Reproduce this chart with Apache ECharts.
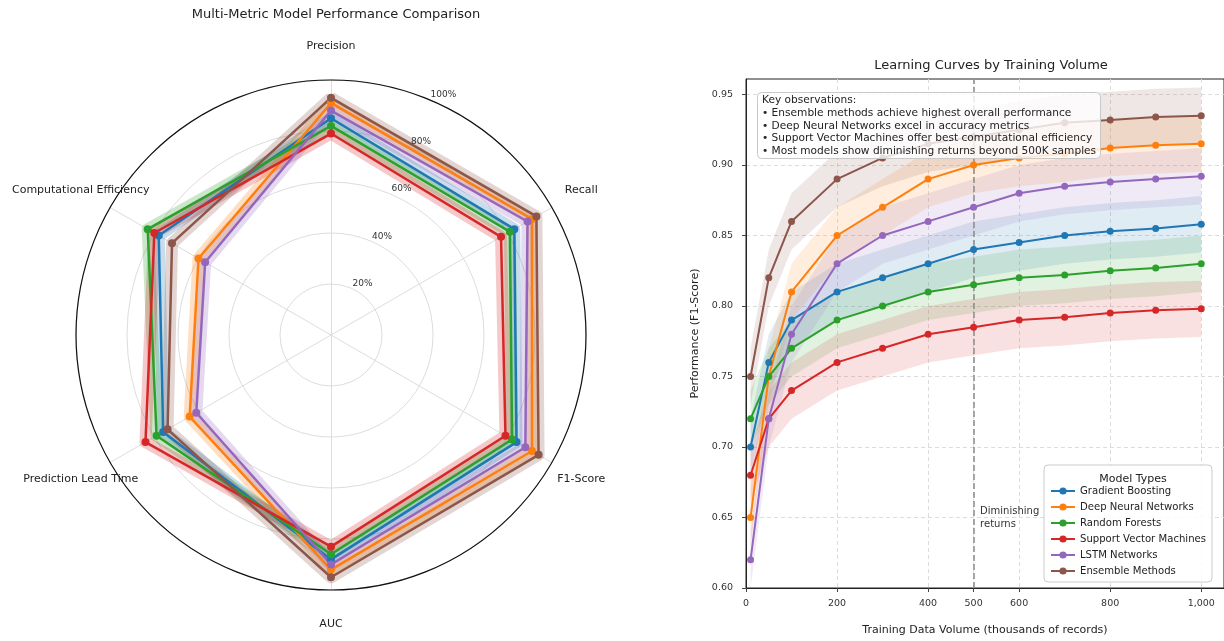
<!DOCTYPE html>
<html><head><meta charset="utf-8">
<script src="https://cdn.jsdelivr.net/npm/echarts@6/dist/echarts.min.js"></script>
<style>html,body{margin:0;padding:0;background:#fff;} #c{width:1224px;height:641px;}</style>
</head><body><div id="c"></div>
<script>
const FONT = 'DejaVu Sans';
const models = ['Gradient Boosting','Deep Neural Networks','Random Forests','Support Vector Machines','LSTM Networks','Ensemble Methods'];
const colors = ['#1f77b4','#ff7f0e','#2ca02c','#d62728','#9467bd','#8c564b'];

// Radar (percent), order: Precision, Recall, F1-Score, AUC, Prediction Lead Time, Computational Efficiency
const metrics = ['Precision','Recall','F1-Score','AUC','Prediction Lead Time','Computational Efficiency'];
const radarGradientBoosting = [85, 83, 84, 88, 76, 78];
const radarDeepNeuralNetworks = [91, 91, 91, 92, 64, 60];
const radarRandomForests = [82, 81, 82, 86, 79, 83];
const radarSupportVectorMachines = [79, 77, 79, 83, 84, 80];
const radarLSTMNetworks = [88, 89, 88, 90, 61, 57];
const radarEnsembleMethods = [93, 93, 94, 95, 74, 72];
const radarTicks = [20, 40, 60, 80, 100];

// Learning curves
const volumes = [10, 50, 100, 200, 300, 400, 500, 600, 700, 800, 900, 1000];
const curveGradientBoosting = [0.70, 0.76, 0.79, 0.81, 0.82, 0.83, 0.84, 0.845, 0.85, 0.853, 0.855, 0.858];
const curveDeepNeuralNetworks = [0.65, 0.75, 0.81, 0.85, 0.87, 0.89, 0.90, 0.905, 0.908, 0.912, 0.914, 0.915];
const curveRandomForests = [0.72, 0.75, 0.77, 0.79, 0.80, 0.81, 0.815, 0.82, 0.822, 0.825, 0.827, 0.83];
const curveSupportVectorMachines = [0.68, 0.72, 0.74, 0.76, 0.77, 0.78, 0.785, 0.79, 0.792, 0.795, 0.797, 0.798];
const curveLSTMNetworks = [0.62, 0.72, 0.78, 0.83, 0.85, 0.86, 0.87, 0.88, 0.885, 0.888, 0.89, 0.892];
const curveEnsembleMethods = [0.75, 0.82, 0.86, 0.89, 0.905, 0.915, 0.92, 0.925, 0.93, 0.932, 0.934, 0.935];
const bandHalfWidth = 0.02;
const xTicks = [0, 200, 400, 500, 600, 800, 1000];
const yTicks = [0.60, 0.65, 0.70, 0.75, 0.80, 0.85, 0.90, 0.95];
const diminishingReturnsAt = 500;
const observations = [
  'Key observations:',
  '\u2022 Ensemble methods achieve highest overall performance',
  '\u2022 Deep Neural Networks excel in accuracy metrics',
  '\u2022 Support Vector Machines offer best computational efficiency',
  '\u2022 Most models show diminishing returns beyond 500K samples'
];

const radarSets = [radarGradientBoosting, radarDeepNeuralNetworks, radarRandomForests, radarSupportVectorMachines, radarLSTMNetworks, radarEnsembleMethods];
const curveSets = [curveGradientBoosting, curveDeepNeuralNetworks, curveRandomForests, curveSupportVectorMachines, curveLSTMNetworks, curveEnsembleMethods];
const ccwOrder = [0, 5, 4, 3, 2, 1];

const series = [];
models.forEach((m, k) => {
  const vals = curveSets[k];
  series.push({
    type: 'custom', name: m + ' band', silent: true, z: 1,
    xAxisIndex: 0, yAxisIndex: 0,
    data: volumes.map((x, i) => [x, vals[i]]),
    renderItem: (params, api) => {
      if (params.dataIndex !== 0) return;
      const up = volumes.map((x, i) => api.coord([x, vals[i] + bandHalfWidth]));
      const lo = volumes.map((x, i) => api.coord([x, vals[i] - bandHalfWidth])).reverse();
      return { type: 'polygon', shape: { points: up.concat(lo) }, style: { fill: colors[k], opacity: 0.14 } };
    }
  });
});
models.forEach((m, k) => {
  const vals = curveSets[k];
  const s = {
    type: 'line', name: m, z: 3,
    xAxisIndex: 0, yAxisIndex: 0,
    data: volumes.map((x, i) => [x, vals[i]]),
    symbol: 'circle', symbolSize: 7,
    lineStyle: { width: 2, color: colors[k] },
    itemStyle: { color: colors[k] },
    emphasis: { disabled: true }
  };
  if (k === 0) {
    s.markLine = {
      silent: true, symbol: ['none', 'none'], z: 2,
      data: [{ xAxis: diminishingReturnsAt }],
      lineStyle: { type: [6, 3], color: '#8a8a8a', width: 1.5 },
      label: { show: false }
    };
    s.markPoint = {
      silent: true, symbol: 'circle', symbolSize: 1, itemStyle: { color: 'rgba(0,0,0,0)' },
      data: [{ coord: [diminishingReturnsAt, 0.65] }],
      label: { show: true, position: 'right', distance: 6, formatter: 'Diminishing\nreturns', color: '#333', fontSize: 10, lineHeight: 13, fontFamily: FONT, align: 'left' }
    };
  }
  series.push(s);
});
models.forEach((m, k) => {
  const v = ccwOrder.map(i => radarSets[k][i]);
  series.push({
    type: 'radar', name: m, silent: true, symbol: 'none', z: 2,
    lineStyle: { width: 12, color: colors[k], opacity: 0.25 },
    data: [{ value: v }]
  });
  series.push({
    type: 'radar', name: m, silent: true, symbol: 'circle', symbolSize: 8, z: 3,
    lineStyle: { width: 2.5, color: colors[k] },
    itemStyle: { color: colors[k] },
    data: [{ value: v }]
  });
});

const fmtThousands = v => String(Math.round(v)).replace(/\B(?=(\d{3})+(?!\d))/g, ',');

const option = {
  animation: false,
  backgroundColor: '#fff',
  textStyle: { fontFamily: FONT },
  title: [
    { text: 'Multi-Metric Model Performance Comparison', left: 331, top: 3, textAlign: 'center',
      textStyle: { fontSize: 13, fontWeight: 'normal', color: '#222', fontFamily: FONT } },
    { text: 'Learning Curves by Training Volume', left: 986, top: 54, textAlign: 'center',
      textStyle: { fontSize: 13, fontWeight: 'normal', color: '#222', fontFamily: FONT } },
    { text: observations.join('\n'), left: 757, top: 92, z: 8,
      backgroundColor: 'rgba(255,255,255,0.8)', borderColor: '#c8c8c8', borderWidth: 1, borderRadius: 4,
      padding: [2, 5, 1, 5],
      textStyle: { fontSize: 10.6, lineHeight: 12.7, fontWeight: 'normal', color: '#222', fontFamily: FONT } },
    { text: 'Model Types', left: 1128, top: 469, textAlign: 'center', z: 9,
      textStyle: { fontSize: 11, fontWeight: 'normal', color: '#222', fontFamily: FONT } }
  ],
  legend: {
    data: models, orient: 'vertical', left: 1044, top: 465,
    padding: [21, 6, 6, 6], itemGap: 6, itemWidth: 24, itemHeight: 9,
    backgroundColor: 'rgba(255,255,255,0.85)', borderColor: '#cccccc', borderWidth: 1, borderRadius: 4,
    textStyle: { fontSize: 10.1, color: '#222', fontFamily: FONT },
    selectedMode: false
  },
  grid: { left: 746, top: 79, right: 0, bottom: 46, show: true, borderColor: '#222', borderWidth: 1, backgroundColor: 'transparent' },
  xAxis: {
    type: 'value', min: 0, max: 1050, interval: 200,
    name: 'Training Data Volume (thousands of records)', nameLocation: 'middle', nameGap: 37,
    nameTextStyle: { fontSize: 11, color: '#222', fontFamily: FONT },
    axisLine: { show: true, onZero: false, lineStyle: { color: '#222', width: 1 } },
    axisTick: { show: true, customValues: xTicks, length: 4, lineStyle: { color: '#444' } },
    axisLabel: { customValues: xTicks, formatter: fmtThousands, fontSize: 9.5, color: '#333', margin: 11, fontFamily: FONT },
    splitLine: { show: true, lineStyle: { type: [4, 3], color: '#dcdcdc', width: 1 } }
  },
  yAxis: {
    type: 'value', min: 0.6, max: 0.961, interval: 0.05,
    name: 'Performance (F1-Score)', nameLocation: 'middle', nameGap: 45, nameRotate: 90,
    nameTextStyle: { fontSize: 11, color: '#222', fontFamily: FONT },
    axisLine: { show: true, lineStyle: { color: '#222', width: 1 } },
    axisTick: { show: true, customValues: yTicks, length: 4, lineStyle: { color: '#444' } },
    axisLabel: { customValues: yTicks, formatter: v => v.toFixed(2), fontSize: 9.5, color: '#333', margin: 13, fontFamily: FONT },
    splitLine: { show: true, lineStyle: { type: [4, 3], color: '#dcdcdc', width: 1 } }
  },
  polar: { center: [331, 335], radius: 255 },
  angleAxis: {
    type: 'value', min: 0, max: 360, startAngle: 67.5, z: 5,
    axisLine: { show: true, lineStyle: { color: '#111', width: 1.2 } },
    axisTick: { show: false }, axisLabel: { show: false }, splitLine: { show: false }
  },
  radiusAxis: {
    type: 'value', min: 0, max: 100, interval: 20, z: 5,
    axisLine: { show: false }, axisTick: { show: false }, splitLine: { show: false },
    axisLabel: { customValues: radarTicks, formatter: v => v + '%', fontSize: 9, color: '#333', fontFamily: FONT,
      margin: 0, align: 'left', verticalAlign: 'bottom', padding: [0, 0, 0, 2] }
  },
  radar: {
    center: [331, 335], radius: 255, startAngle: 90, splitNumber: 5, shape: 'circle',
    indicator: ccwOrder.map(i => ({ name: metrics[i], min: 0, max: 100 })),
    nameGap: 34,
    axisName: { color: '#222', fontSize: 11, fontFamily: FONT, align: 'center', verticalAlign: 'middle' },
    axisLine: { lineStyle: { color: '#dddddd', width: 1 } },
    splitLine: { lineStyle: { color: '#dddddd', width: 1 } },
    splitArea: { show: false },
    axisTick: { show: false }, axisLabel: { show: false }
  },
  series: series
};

const chart = echarts.init(document.getElementById('c'), null, { renderer: 'canvas' });
chart.setOption(option);
</script>
</body></html>
